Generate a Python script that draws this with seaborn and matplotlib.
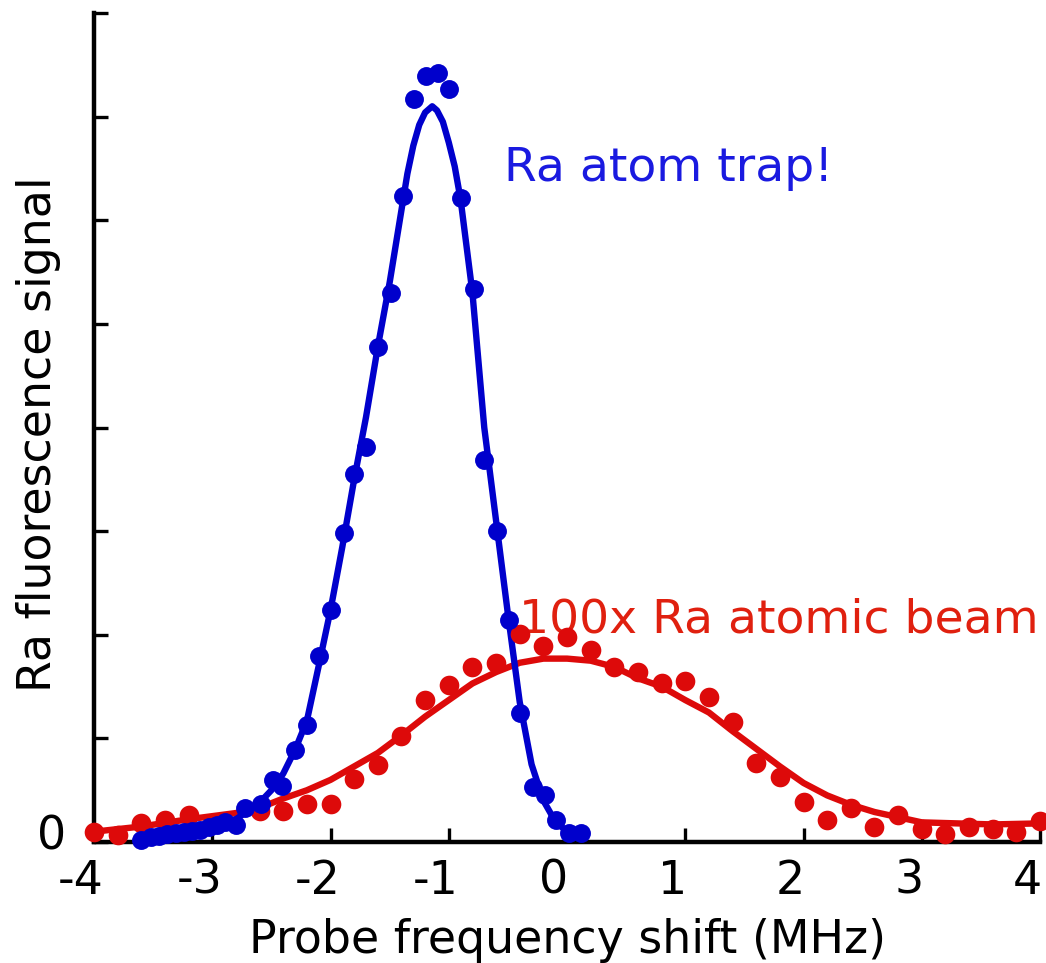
import matplotlib
matplotlib.use("Agg")
import matplotlib.pyplot as plt
import matplotlib.transforms as mtransforms
import seaborn as sns

# Trap data (blue)
trap_x = [-3.60, -3.52, -3.45, -3.38, -3.31, -3.24, -3.17, -3.10, -3.03, -2.96,
          -2.89, -2.80, -2.72, -2.59, -2.49, -2.41, -2.30, -2.20, -2.10, -2.00,
          -1.89, -1.80, -1.70, -1.60, -1.49, -1.39, -1.29, -1.19, -1.09, -1.00,
          -0.90, -0.79, -0.70, -0.59, -0.49, -0.40, -0.29, -0.19, -0.09, 0.02, 0.12]
trap_y = [0.02, 0.045, 0.06, 0.08, 0.085, 0.095, 0.105, 0.12, 0.15, 0.165,
          0.19, 0.165, 0.33, 0.37, 0.60, 0.54, 0.89, 1.13, 1.80, 2.24,
          2.98, 3.55, 3.81, 4.78, 5.30, 6.23, 7.17, 7.39, 7.42, 7.27,
          6.21, 5.34, 3.69, 3.00, 2.14, 1.25, 0.53, 0.45, 0.21, 0.085, 0.085]

# Trap fit curve
trap_fit_x = [-3.6, -3.3, -3.0, -2.8, -2.6, -2.5, -2.4, -2.3, -2.2, -2.1, -2.0,
              -1.9, -1.8, -1.7, -1.6, -1.5, -1.4, -1.35, -1.3, -1.25, -1.2,
              -1.14, -1.1, -1.05, -1.0, -0.95, -0.9, -0.8, -0.7, -0.6, -0.5,
              -0.4, -0.3, -0.2, -0.1, 0.0, 0.12]
trap_fit_y = [0.02, 0.07, 0.14, 0.22, 0.38, 0.50, 0.66, 0.89, 1.17, 1.70, 2.24,
              2.85, 3.50, 4.10, 4.78, 5.40, 6.10, 6.45, 6.72, 6.92, 7.04,
              7.10, 7.06, 6.95, 6.75, 6.52, 6.20, 5.30, 4.00, 3.10, 2.20,
              1.35, 0.75, 0.40, 0.20, 0.10, 0.08]

# Atomic beam data (red, x100)
beam_x = [-4.0, -3.8, -3.6, -3.4, -3.2, -2.6, -2.4, -2.2, -2.0,
          -1.8, -1.6, -1.4, -1.2, -1.0, -0.8, -0.6, -0.4, -0.2, 0.0,
          0.2, 0.4, 0.6, 0.8, 1.0, 1.2, 1.4, 1.6, 1.8, 2.0,
          2.2, 2.4, 2.6, 2.8, 3.0, 3.2, 3.4, 3.6, 3.8, 4.0]
beam_y = [0.10, 0.07, 0.18, 0.21, 0.26, 0.30, 0.30, 0.37, 0.37,
          0.61, 0.74, 1.02, 1.37, 1.52, 1.69, 1.73, 2.01, 1.89, 1.98,
          1.85, 1.69, 1.64, 1.53, 1.55, 1.40, 1.16, 0.76, 0.63, 0.39,
          0.21, 0.33, 0.15, 0.26, 0.13, 0.08, 0.15, 0.13, 0.10, 0.20]

# Atomic beam fit curve
beam_fit_x = [-4.0, -3.6, -3.2, -2.8, -2.6, -2.4, -2.2, -2.0, -1.8, -1.6, -1.4,
              -1.2, -1.0, -0.8, -0.6, -0.4, -0.2, 0.0, 0.2, 0.4, 0.6, 0.8, 1.0,
              1.2, 1.4, 1.6, 1.8, 2.0, 2.2, 2.4, 2.6, 2.8, 3.0, 3.3, 3.6, 4.0]
beam_fit_y = [0.10, 0.15, 0.22, 0.28, 0.33, 0.42, 0.50, 0.60, 0.73, 0.86, 1.03,
              1.21, 1.37, 1.53, 1.64, 1.73, 1.77, 1.77, 1.75, 1.69, 1.58, 1.50,
              1.37, 1.25, 1.07, 0.90, 0.73, 0.57, 0.45, 0.36, 0.29, 0.24, 0.19,
              0.18, 0.17, 0.18]

x_ticks = [-4, -3, -2, -1, 0, 1, 2, 3, 4]
y_ticks = [0, 1, 2, 3, 4, 5, 6, 7, 8]

BLUE = "#0000CC"
RED = "#DD0A0A"

sns.set_style("ticks", {"axes.edgecolor": "black", "text.color": "black",
                        "xtick.color": "black", "ytick.color": "black",
                        "axes.labelcolor": "black"})
plt.rcParams["font.family"] = ["DejaVu Sans"]

fig = plt.figure(figsize=(10.46, 9.63), dpi=100)
ax = fig.add_axes([0.0899, 0.1256, 0.9044, 0.8609])

# Kolejnosc warstw: czerwona linia, niebieska linia, punkty
sns.lineplot(x=beam_fit_x, y=beam_fit_y, color=RED, linewidth=4.6, sort=False,
             ax=ax, zorder=2)
sns.lineplot(x=trap_fit_x, y=trap_fit_y, color=BLUE, linewidth=4.6, sort=False,
             ax=ax, zorder=3)
sns.scatterplot(x=beam_x, y=beam_y, color=RED, s=200, linewidth=0, ax=ax,
                zorder=4, clip_on=False)
sns.scatterplot(x=trap_x, y=trap_y, color=BLUE, s=185, linewidth=0, ax=ax,
                zorder=5, clip_on=False)

ax.set_xlim(-4, 4)
ax.set_ylim(0, 8)
ax.set_xticks(x_ticks)
ax.set_xticklabels([str(t) for t in x_ticks])
ax.set_yticks(y_ticks)
ax.set_yticklabels(["0"] + [""] * (len(y_ticks) - 1))

sns.despine(ax=ax)
for side in ["left", "bottom"]:
    ax.spines[side].set_linewidth(3.2)
    ax.spines[side].set_color("black")
ax.tick_params(axis="both", direction="in", length=10, width=2.4,
               labelsize=33, color="black", labelcolor="black")
ax.tick_params(axis="x", pad=12)
ax.tick_params(axis="y", pad=20)

# Etykiety osi x przesuniete lekko w lewo, "0" na osi y lekko w gore
shift_x = mtransforms.ScaledTranslation(-13 / 100, 0, fig.dpi_scale_trans)
for lab in ax.get_xticklabels():
    lab.set_transform(lab.get_transform() + shift_x)
shift_y = mtransforms.ScaledTranslation(0, 10 / 100, fig.dpi_scale_trans)
for lab in ax.get_yticklabels():
    lab.set_transform(lab.get_transform() + shift_y)

ax.set_xlabel("Probe frequency shift (MHz)", fontsize=33, labelpad=10,
              color="black")
ax.set_ylabel("Ra fluorescence signal", fontsize=33, color="black")
ax.yaxis.set_label_coords(-0.035, 0.492)

ax.text(-0.534, 6.38, "Ra atom trap!", color="#1A1AE0", fontsize=34,
        ha="left", va="baseline")
ax.text(-0.407, 2.02, "100x Ra atomic beam", color="#E0200F", fontsize=34,
        ha="left", va="baseline")

plt.savefig("out.png", dpi=100)
